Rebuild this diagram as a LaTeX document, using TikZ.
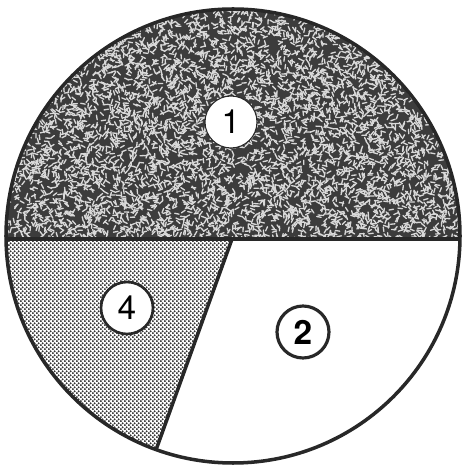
\documentclass[tikz,border=0pt]{standalone}
\usepackage{fontspec}
\setmainfont{TeX Gyre Heros}
\usetikzlibrary{calc, patterns.meta}
\definecolor{SecDark}{RGB}{60,60,60}
\definecolor{SecLine}{RGB}{40,40,40}

\tikzdeclarepattern{
  name=finedots, type=uncolored,
  bounding box={(0,0) and (2.4pt,2.4pt)},
  tile size={(2.4pt,2.4pt)},
  code={\fill (0.6pt,0.6pt) circle (0.72pt);
        \fill (1.8pt,1.8pt) circle (0.72pt);}
}

\begin{document}
\begin{tikzpicture}[
          x=0.02cm, y=0.02cm,
          lb/.style={circle, draw=SecLine, fill=white, minimum size=1.04cm,
                     inner sep=0pt, font=\fontsize{19}{19}\selectfont},
          rim/.style={line width=2pt, draw=SecLine}
        ]
        \useasboundingbox (0,0) rectangle (461,466);
        \coordinate (C) at (233,230);
        \coordinate (L) at ($(C)+(180.76:227)$);
        \coordinate (R) at ($(C)+(-0.76:227)$);
        \coordinate (M) at (232,227);
        \coordinate (B) at ($(C)+(250.2:227)$);

        % Region 1 (top, textured)
        \begin{scope}
          \clip (R) arc[start angle=-0.76, end angle=180.76, radius=227] -- cycle;
          \fill[SecDark] (0,220) rectangle (461,466);
          \pgfmathsetseed{4217}
          \foreach \k in {1,...,6800} {
            \pgfmathsetmacro\sx{233+rand*232}
            \pgfmathsetmacro\sy{225+rnd*240}
            \pgfmathsetmacro\sa{rnd*360}
            \draw[white!85!black, line width=0.75pt, line cap=round]
                 (\sx,\sy) -- ++(\sa:4.5);
          }
        \end{scope}

        % Region 4 (left, dotted)
        \fill[pattern={finedots}, pattern color=black!80]
             (M) -- (L) arc[start angle=180.76, end angle=250.2, radius=227] -- cycle;

        % Dividing lines and rim
        \draw[rim] (L) -- (R);
        \draw[rim] (M) -- (B);
        \draw[rim] (C) circle[radius=227];

        % Labels
        \node[lb, line width=0.6pt] (n1) at (231,344) {1};
        \node[lb, line width=1.5pt] (n4) at (127,158) {4};
        \node[lb, line width=1.8pt, font=\fontsize{19}{19}\selectfont\bfseries]
             (n2) at (303,134) {2};
      \end{tikzpicture}
\end{document}
